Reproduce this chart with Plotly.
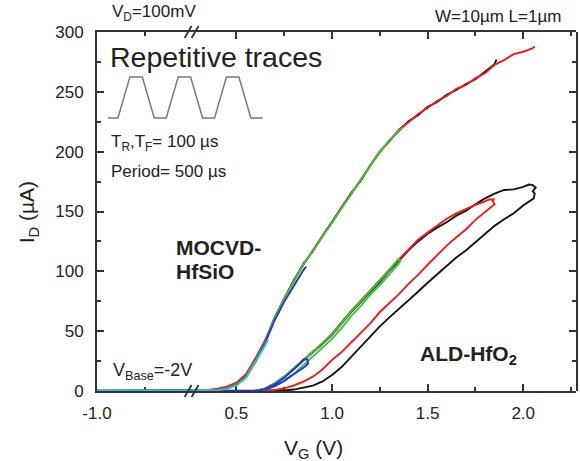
import plotly.graph_objects as go

# ---------------- data: drain current I_D (uA) vs gate voltage V_G (V) ----------------
# every sweep starts from the base voltage V_Base = -2 V (flat at 0 uA)

# MOCVD-HfSiO, repetitive pulsed traces
moc_black_vg = [-2.0, 0.35, 0.40, 0.45, 0.50, 0.55, 0.60, 0.65, 0.70, 0.75, 0.80, 0.85, 0.90, 0.95,
                1.00, 1.05, 1.10, 1.15, 1.20, 1.25, 1.30, 1.35, 1.40, 1.45, 1.50, 1.55, 1.60, 1.65,
                1.70, 1.75, 1.80, 1.85, 1.86]
moc_black_id = [0, 0.3, 1.0, 2.4, 5.8, 12.6, 26.5, 41.5, 61.5, 76.5, 92.5, 105.5, 117.5, 128.5,
                141.5, 152.5, 165.5, 175.5, 188.5, 199.5, 209.5, 217.5, 225.5, 230.5, 237.5, 241.5, 247.5, 251.5,
                256.5, 260.5, 266.5, 273.0, 277.0]

moc_red_vg = [-2.0, 0.35, 0.40, 0.45, 0.50, 0.55, 0.60, 0.65, 0.70, 0.75, 0.80, 0.85, 0.90, 0.95,
              1.00, 1.05, 1.10, 1.15, 1.20, 1.25, 1.30, 1.35, 1.40, 1.45, 1.50, 1.55, 1.60, 1.65,
              1.70, 1.75, 1.80, 1.85, 1.90, 1.95, 2.00, 2.05, 2.06]
moc_red_id = [0, 0.8, 2.0, 3.6, 7.0, 14.0, 27.5, 42.5, 60.5, 77.5, 91.5, 106.5, 116.5, 129.5,
              140.5, 153.5, 164.5, 176.5, 187.5, 200.5, 208.5, 218.5, 224.5, 231.5, 236.5, 242.5, 246.5, 252.5,
              255.5, 261.5, 265.5, 272.5, 276.5, 281.5, 283.5, 286.5, 288.0]

moc_green_vg = [-2.0, 0.35, 0.40, 0.45, 0.50, 0.55, 0.60, 0.65, 0.70, 0.75, 0.80, 0.85, 0.90, 0.95,
                1.00, 1.05, 1.10, 1.15, 1.20, 1.25, 1.30, 1.35, 1.37]
moc_green_id = [0, 0.2, 0.8, 2.2, 5.5, 12.0, 25.5, 41.0, 61.0, 77.0, 92.0, 106.0, 117.0, 129.0,
                141.0, 153.0, 165.0, 176.0, 188.0, 200.0, 209.0, 218.0, 220.0]

moc_blue_vg = [-2.0, 0.35, 0.40, 0.45, 0.50, 0.55, 0.60, 0.65, 0.70, 0.75, 0.80, 0.85, 0.865]
moc_blue_id = [0, 0.2, 0.8, 2.0, 5.0, 11.5, 24.5, 40.0, 59.0, 74.5, 88.0, 101.0, 104.0]

moc_cyan_vg = [-2.0, 0.35, 0.40, 0.45, 0.50, 0.55, 0.60, 0.65, 0.665]
moc_cyan_id = [0, 0.2, 0.7, 1.8, 4.6, 11.0, 24.0, 38.0, 43.0]

# ALD-HfO2, hysteresis loops (up-sweep then down-sweep)
ald_black_vg = [-2.0, 0.70, 0.75, 0.80, 0.85, 0.90, 0.95, 1.00, 1.05, 1.10, 1.15, 1.20, 1.25, 1.30,
                1.35, 1.40, 1.45, 1.50, 1.55, 1.60, 1.65, 1.70, 1.75, 1.80, 1.85, 1.90, 1.95, 2.00,
                2.04, 2.055, 2.06, 2.05, 2.065, 2.05, 2.03,
                2.00, 1.95, 1.90, 1.85, 1.80, 1.75, 1.70, 1.65, 1.60, 1.55, 1.50, 1.45, 1.40, 1.35,
                1.30, 1.25, 1.20, 1.15, 1.10, 1.05, 1.00, 0.95, 0.90, 0.85, 0.80, 0.75, 0.70, 0.65, 0.60]
ald_black_id = [0, 0, 0.4, 1.2, 2.6, 4.5, 8.0, 13.4, 20.0, 28.5, 37.0, 46.0, 54.0, 61.5,
                68.5, 76.0, 83.0, 90.5, 97.5, 105.0, 111.5, 117.5, 124.5, 131.5, 138.0, 143.5, 148.5, 155.0,
                159.5, 161.0, 165.0, 167.0, 170.0, 172.0, 172.5,
                170.5, 168.5, 168.0, 165.0, 161.0, 156.0, 150.5, 146.5, 141.0, 136.5, 131.5, 125.0, 117.5, 109.0,
                100.5, 91.0, 82.5, 74.5, 66.0, 56.5, 47.0, 39.5, 32.5, 25.5, 18.5, 11.5, 6.0, 2.0, 0]

ald_red_vg = [-2.0, 0.65, 0.70, 0.75, 0.80, 0.85, 0.90, 0.95, 1.00, 1.05, 1.10, 1.15, 1.20, 1.25,
              1.30, 1.35, 1.40, 1.45, 1.50, 1.55, 1.60, 1.65, 1.70, 1.75, 1.80, 1.84,
              1.85, 1.84, 1.845, 1.82,
              1.80, 1.75, 1.70, 1.65, 1.60, 1.55, 1.50, 1.45, 1.40, 1.35, 1.30, 1.25, 1.20,
              1.15, 1.10, 1.05, 1.00, 0.95, 0.90, 0.85, 0.80, 0.75, 0.70, 0.65, 0.60]
ald_red_id = [0, 0, 0.8, 2.2, 4.6, 7.8, 12.0, 18.0, 26.0, 32.5, 40.5, 48.5, 56.5, 66.0,
              73.5, 81.0, 89.5, 97.0, 105.5, 113.5, 121.5, 128.5, 135.0, 143.0, 149.5, 154.0,
              156.0, 158.5, 160.0, 160.0,
              158.5, 155.5, 152.0, 148.5, 144.0, 138.5, 132.5, 126.5, 118.5, 110.0, 101.5, 92.5, 84.0,
              75.5, 67.0, 57.5, 48.0, 40.0, 33.0, 26.0, 19.0, 12.0, 6.5, 2.2, 0]

ald_green_vg = [-2.0, 0.62, 0.65, 0.70, 0.75, 0.80, 0.85, 0.90, 0.95, 1.00, 1.05, 1.10, 1.15, 1.20,
                1.25, 1.30, 1.35, 1.36, 1.345,
                1.30, 1.25, 1.20, 1.15, 1.10, 1.05, 1.00, 0.95, 0.90, 0.85, 0.80, 0.75, 0.70, 0.65, 0.60]
ald_green_id = [0, 0, 1.2, 4.0, 8.5, 14.5, 21.5, 29.0, 36.5, 43.5, 52.5, 62.5, 71.0, 80.5,
                88.5, 97.5, 106.5, 109.5, 110.0,
                101.0, 92.0, 83.5, 75.0, 66.5, 57.0, 47.5, 40.0, 33.0, 26.0, 19.0, 12.0, 6.2, 2.0, 0]

ald_blue_vg = [-2.0, 0.60, 0.65, 0.70, 0.75, 0.80, 0.83, 0.845, 0.855, 0.87, 0.875,
               0.86, 0.83, 0.80, 0.75, 0.70, 0.65, 0.60]
ald_blue_id = [0, 0, 1.6, 5.5, 11.0, 18.0, 22.5, 25.5, 26.5, 26.5, 23.0,
               20.5, 17.0, 14.0, 8.5, 4.0, 1.2, 0]

# axis ticks
x_left_ticks = [-1.0]
x_right_ticks = [0.5, 1.0, 1.5, 2.0]
x_minor_step = 0.25
y_ticks = [0, 50, 100, 150, 200, 250, 300]

COLORS = {"black": "#141414", "red": "#ee1c1c", "green": "#3cc43c",
          "blue": "#2438d6", "cyan": "#2ec4c4"}

# ---------------- layout geometry (pixels) ----------------
W, H = 580, 461
L, R, T, B = 97, 578, 32, 391
X_BREAK = 192                      # pixel where the axis is broken
PX_PER_V = 192.0
split = (X_BREAK - L) / (R - L)
left_range = [-1.0, -1.0 + (X_BREAK - L) / PX_PER_V]
right_start = 0.5 - (237 - X_BREAK) / PX_PER_V
right_range = [right_start, right_start + (R - X_BREAK) / PX_PER_V]


def paper(xp, yp):
    return (xp - L) / (R - L), (B - yp) / (B - T)


FONT = "Liberation Sans, Arial, Helvetica, sans-serif"
TXT = "#222222"
AX = "#333333"

fig = go.Figure()

series = [
    (moc_black_vg, moc_black_id, "black"),
    (ald_black_vg, ald_black_id, "black"),
    (moc_red_vg, moc_red_id, "red"),
    (ald_red_vg, ald_red_id, "red"),
    (moc_green_vg, moc_green_id, "green"),
    (ald_green_vg, ald_green_id, "green"),
    (moc_blue_vg, moc_blue_id, "blue"),
    (ald_blue_vg, ald_blue_id, "blue"),
    (moc_cyan_vg, moc_cyan_id, "cyan"),
]

# frame subplot spanning the whole plot area: carries the right-hand I_D ticks
fig.add_trace(go.Scatter(x=[None], y=[None], xaxis="x3", yaxis="y3", mode="lines",
                         showlegend=False, hoverinfo="skip"))

# each sweep is drawn on both halves of the broken V_G axis
for vg, idd, c in series:
    for xa, ya in (("x", "y"), ("x2", "y2")):
        fig.add_trace(go.Scatter(x=vg, y=idd, mode="lines", xaxis=xa, yaxis=ya,
                                 line=dict(color=COLORS[c], width=1.9),
                                 showlegend=False, hoverinfo="skip"))

tickfont = dict(family=FONT, size=17, color=TXT)
common_x = dict(showline=True, linecolor=AX, linewidth=2, mirror="ticks",
                ticks="inside", ticklen=7, tickwidth=1.5, tickcolor=AX,
                showgrid=False, zeroline=False, tickfont=tickfont,
                ticklabelstandoff=6, layer="below traces")
minor_x = dict(tick0=0, dtick=x_minor_step, ticks="inside", ticklen=4,
               tickwidth=1.5, tickcolor=AX)
y_step = y_ticks[1] - y_ticks[0]
y_minor = dict(dtick=y_step / 2, ticks="inside", ticklen=4, tickwidth=1.5, tickcolor=AX)

fig.update_layout(
    width=W, height=H,
    margin=dict(l=L, r=W - R, t=T, b=H - B, pad=0),
    paper_bgcolor="white", plot_bgcolor="rgba(0,0,0,0)",
    showlegend=False,
    xaxis=dict(domain=[0, split], range=left_range, anchor="y",
               tickvals=x_left_ticks, ticktext=[f"{v:.1f}" for v in x_left_ticks],
               minor=minor_x, **common_x),
    xaxis2=dict(domain=[split, 1], range=right_range, anchor="y2",
                tickvals=x_right_ticks, ticktext=[f"{v:.1f}" for v in x_right_ticks],
                minor=minor_x, **common_x),
    yaxis=dict(domain=[0, 1], range=[y_ticks[0], y_ticks[-1]], anchor="x",
               showline=True, linecolor=AX, linewidth=2,
               ticks="inside", ticklen=7, tickwidth=1.5, tickcolor=AX,
               tickvals=y_ticks, minor=y_minor,
               showgrid=False, zeroline=False, tickfont=tickfont,
               ticklabelstandoff=8),
    yaxis2=dict(domain=[0, 1], range=[y_ticks[0], y_ticks[-1]], anchor="x2",
                visible=False),
    # full-width frame axes: hidden x, y mirrored onto the right edge
    xaxis3=dict(domain=[0, 1], range=[0, 1], anchor="y3", visible=False),
    yaxis3=dict(domain=[0, 1], range=[y_ticks[0], y_ticks[-1]], anchor="x3", side="left",
                showline=True, linecolor=AX, linewidth=2, mirror="ticks",
                ticks="inside", ticklen=7, tickwidth=1.5, tickcolor=AX,
                tick0=0, dtick=y_step, minor=y_minor,
                showticklabels=False, showgrid=False, zeroline=False),
)

# axis-break marks "//" on bottom and top frame lines
shapes = []
for yc in (B, T):
    for dx in (-3.5, 3.5):
        x0, y0 = paper(X_BREAK + dx - 3.5, yc + 6)
        x1, y1 = paper(X_BREAK + dx + 3.5, yc - 6)
        shapes.append(dict(type="line", xref="paper", yref="paper",
                           x0=x0, y0=y0, x1=x1, y1=y1,
                           line=dict(color=AX, width=1.8)))

# trapezoidal gate pulse sketch (three periods)
pulse_dx = [0, 10, 22, 34.5, 46.5, 58.5, 70.5, 83, 95, 107, 119, 131.5, 143.5, 155.5]
pulse_lv = [0, 0, 1, 1, 0, 0, 1, 1, 0, 0, 1, 1, 0, 0]
px0, py_low, py_high = 108, 118, 77
pts = [paper(px0 + dx, py_high if lv else py_low) for dx, lv in zip(pulse_dx, pulse_lv)]
path = "M " + " L ".join(f"{x:.5f},{y:.5f}" for x, y in pts)
shapes.append(dict(type="path", xref="paper", yref="paper", path=path,
                   line=dict(color="#7a7a7a", width=1.5)))
fig.update_layout(shapes=shapes)


def label(text, xp, yp, size, bold=False, xanchor="left", angle=0):
    x, y = paper(xp, yp)
    if bold:
        text = f"<b>{text}</b>"
    fig.add_annotation(text=text, x=x, y=y, xref="paper", yref="paper",
                       xanchor=xanchor, yanchor="middle", showarrow=False,
                       textangle=angle,
                       font=dict(family=FONT, size=size, color=TXT))


label("V<sub>D</sub>=100mV", 110, 13, 17)
label("W=10µm L=1µm", 565, 17, 17, xanchor="right")
label("Repetitive traces", 108, 57, 28.5)
label("T<sub>R</sub>,T<sub>F</sub>= 100 µs", 109, 143, 17)
label("Period= 500 µs", 109, 171, 17)
label("MOCVD-", 174, 247, 21, bold=True)
label("HfSiO", 174, 271, 21, bold=True)
label("ALD-HfO<sub>2</sub>", 419, 355, 21, bold=True)
label("V<sub>Base</sub>=-2V", 111, 371, 18)
label("I<sub>D</sub> (µA)", 28, 212, 21, xanchor="center", angle=-90)
label("V<sub>G</sub> (V)", 314, 449, 21, xanchor="center")

fig.write_html("out.html")
